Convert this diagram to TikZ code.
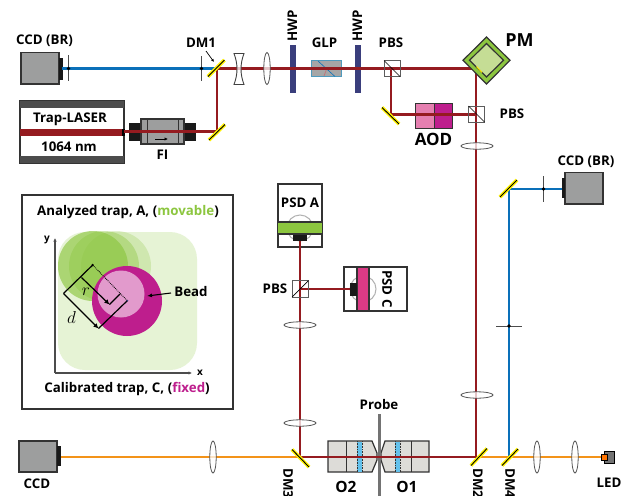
\documentclass[tikz,border=0pt]{standalone}
\usepackage{fontspec}
\setmainfont{Open Sans}
\usetikzlibrary{arrows.meta}
\definecolor{beamred}{HTML}{951B20}
\definecolor{beamblue}{HTML}{0A70B9}
\definecolor{beamorange}{HTML}{F39319}
\definecolor{camgray}{HTML}{9D9E9E}
\definecolor{edgegray}{HTML}{333333}
\definecolor{mirroryellow}{HTML}{FFF200}
\definecolor{hwpblue}{HTML}{3A3E7C}
\definecolor{pmgreen}{HTML}{8CC63F}
\definecolor{pmlight}{HTML}{C5DD95}
\definecolor{magentaA}{HTML}{BE1E8D}
\definecolor{pinkA}{HTML}{E57FB0}
\definecolor{psdpink}{HTML}{DB3A85}
\definecolor{objgray}{HTML}{DDDCD8}
\definecolor{objblue}{HTML}{63C1EC}
\tikzset{
  lbl/.style={font=\bfseries\fontsize{13.3}{15}\selectfont,inner sep=0pt,text=black},
  biglbl/.style={font=\bfseries\fontsize{17}{19}\selectfont,inner sep=0pt,text=black},
  redbeam/.style={draw=beamred,line width=2.7pt},
  bluebeam/.style={draw=beamblue,line width=2.3pt},
  orangebeam/.style={draw=beamorange,line width=2.2pt},
  cam/.style={fill=camgray,draw=edgegray,line width=1.3pt},
  blackpart/.style={fill=black!90,draw=none},
  lensshape/.style={fill=white,fill opacity=.75,draw=black!65,line width=.8pt},
  cube/.style={draw=edgegray!80,line width=.9pt},
  irisline/.style={draw=black!70,line width=.9pt},
  housing/.style={fill=white,draw=edgegray,line width=1.3pt},
  objpart/.style={fill=objgray,draw=edgegray,line width=1.2pt},
}
\newcommand{\mirrorat}[2]{%
  \draw[mirroryellow,line width=3.6pt] #1 -- #2;
  \draw[black,line width=.9pt] #1 -- #2;}
\newcommand{\vlens}[2]{\draw[lensshape] (#1,#2) ellipse [x radius=3.2,y radius=16];}
\newcommand{\hlens}[2]{\draw[lensshape] (#1,#2) ellipse [x radius=16,y radius=3.2];}
\begin{document}
\begin{tikzpicture}[x=1pt,y=-1pt]
\useasboundingbox (0,0) rectangle (625,496);
\clip (0,0) rectangle (625,496);
% beam way-points
\coordinate (dmone) at (217,68.5);
\coordinate (ccdblue) at (62,68.5);
\coordinate (laserout) at (124,131.5);
\coordinate (foldlow) at (217,131.5);
\coordinate (pmcorner) at (476,68.5);
\coordinate (pbsone) at (391,68.5);
\coordinate (foldaod) at (391,114.5);
\coordinate (pbstwo) at (476,114.5);
\coordinate (dmtwo) at (476,457);
\coordinate (dmthree) at (300,457);
\coordinate (psdain) at (300,241);
\coordinate (pbsthree) at (300,289);
\coordinate (psdcin) at (350,289);
\coordinate (dmfour) at (509,457);
\coordinate (foldblue) at (509,189);
\coordinate (ccdbrright) at (562,189);
\coordinate (ccdbottom) at (61,457);
\coordinate (ledin) at (601,457);
% CCD BR left
\draw[cam] (21,52.5) rectangle (59,84);
\fill[blackpart] (59,58) rectangle (63,80);
\node[lbl] (ccdbrA) at (44.5,41) {CCD (BR)};
\node[lbl] (dmonelabel) at (201,43) {DM1};
% trap laser
\draw[fill=white,draw=edgegray,line width=1.2pt] (20,101) rectangle (124,163);
\fill[black!70] (20,101) rectangle (124,108);
\fill[black!70] (20,155.5) rectangle (124,163);
\fill[beamred] (20,129) rectangle (123,136);
\fill[black] (122,129) rectangle (125,135.5);
\node[lbl] (traplabel) at (70,119) {Trap-LASER};
\node[lbl] (nmlabel) at (69,147) {1064 nm};
% FI
\fill[blackpart] (129,123) rectangle (141,141);
\fill[blackpart] (184,123) rectangle (196,141);
\draw[cam] (141,119) rectangle (184,144);
\draw[edgegray,line width=.8pt] (147,119) -- (147,144) (178,119) -- (178,144);
\draw[black,line width=1pt,-{Latex[length=3.5pt,width=3.5pt]}] (155,139) -- (168,139);
\node[lbl] (filabel) at (162.5,154.5) {FI};
% HWP
\fill[hwpblue] (290,44.5) rectangle (295.5,93);
\fill[hwpblue] (355,44.5) rectangle (360.5,93);
\node[lbl,rotate=90] (hwpA) at (292.5,25.5) {HWP};
\node[lbl,rotate=90] (hwpB) at (357.5,25.5) {HWP};
% GLP
\draw[fill=black!35,draw=objblue!80!black,line width=.9pt] (311,60.5) rectangle (341.5,76.5);
\draw[beamblue,line width=.6pt] (318,61) -- (335,76.5);
\draw[beamred!60,line width=.8pt] (324,76) -- (327,68);
\node[lbl] (glplabel) at (324.5,43) {GLP};
\node[lbl] (pbslabelA) at (391,43) {PBS};
% cube backgrounds
\fill[white] (384,60) rectangle (400,77);
\fill[white] (468,106) rectangle (484,122);
\fill[white] (292,280) rectangle (309,297);
% AOD
\draw[fill=pinkA,draw=edgegray,line width=.9pt] (415.5,103) rectangle (434,128);
\draw[fill=magentaA,draw=edgegray,line width=.9pt] (434,103) rectangle (452.5,128);
\node[biglbl] (aodlabel) at (433.5,139.5) {AOD};
\node[lbl] (pbslabelB) at (512,114) {PBS};
% PSD A
\draw[housing] (278,184) rectangle (322,247);
\draw[black!30,line width=1pt] (300,228) circle (13);
\fill[pmgreen] (278,222) rectangle (322,234);
\draw[edgegray,line width=1.2pt] (278,222) -- (322,222) (278,234) -- (322,234);
\fill[blackpart] (293,234.5) rectangle (307,241);
\node[lbl] (psdalabel) at (300,203) {PSD A};
% PSD C
\draw[housing] (344,267) rectangle (407,311);
\draw[black!30,line width=1pt] (363,289) circle (13);
\draw[fill=psdpink,draw=edgegray,line width=1.2pt] (357,267) rectangle (369,311);
\fill[blackpart] (350,283) rectangle (357,296);
\node[lbl,rotate=-90] (psdclabel) at (387,289) {PSD C};
\node[lbl] (pbslabelC) at (275,289) {PBS};
% objectives
\draw[objpart] (328,441) -- (372,441) -- (377,453) -- (377,460) -- (372,472) -- (328,472) -- cycle;
\draw[objpart] (429,441) -- (385,441) -- (381,453) -- (381,460) -- (385,472) -- (429,472) -- cycle;
\draw[edgegray,line width=1pt] (346,441) -- (346,472) (411,441) -- (411,472);
\fill[objblue] (357,441.5) rectangle (362,471.5);
\fill[objblue] (395,441.5) rectangle (400,471.5);
\draw[edgegray,line width=.6pt,densely dotted] (357,441) -- (357,472) (362,441) -- (362,472) (395,441) -- (395,472) (400,441) -- (400,472);
\fill[black!55] (378,414) rectangle (381,496);
\node[lbl] (probelabel) at (379,405) {Probe};
\node[biglbl,font=\bfseries\fontsize{15.5}{17}\selectfont] (otwo) at (346,487) {O2};
\node[biglbl,font=\bfseries\fontsize{15.5}{17}\selectfont] (oone) at (407,487) {O1};
% beams
\draw[orangebeam] (ccdbottom) -- (dmthree);
\draw[orangebeam] (dmtwo) -- (ledin);
\draw[bluebeam] (ccdblue) -- (dmone);
\draw[bluebeam] (dmfour) -- (foldblue) -- (ccdbrright);
\draw[redbeam] (laserout) -- (foldlow) -- (dmone) -- (pmcorner) -- (dmtwo) -- (dmthree);
\draw[redbeam,line width=2.2pt] (pbsone) -- (foldaod) -- (pbstwo);
\draw[redbeam] (psdain) -- (dmthree);
\draw[redbeam,line width=2.2pt] (pbsthree) -- (psdcin);
% cubes
\draw[cube] (384,60.5) rectangle (400,76.5);
\draw[black,line width=.7pt] (384,60.5) -- (400,76.5);
\draw[cube] (468.5,106) rectangle (484.5,122);
\draw[black,line width=.7pt] (468.5,106) -- (484.5,122);
\draw[cube] (292,280.5) rectangle (308.5,297);
\draw[black,line width=.7pt] (292,297) -- (308.5,280.5);
% mirrors
\mirrorat{(208,76.5)}{(224.5,60)}
\mirrorat{(209,140)}{(225,124.5)}
\mirrorat{(382,107.5)}{(399,124)}
\mirrorat{(292,449.5)}{(309,467)}
\mirrorat{(471,465.5)}{(487,448.5)}
\mirrorat{(502,465.5)}{(518,449)}
\mirrorat{(500,197)}{(517,180)}
% PM
\draw[fill=pmgreen,draw=edgegray,line width=1.2pt] (463,60.3) -- (486.5,37) -- (510,60.3) -- (486.5,84) -- cycle;
\draw[fill=pmlight,draw=edgegray,line width=1.2pt] (469.5,60.3) -- (486.5,43.5) -- (503.5,60.3) -- (486.5,77) -- cycle;
\draw[mirroryellow,line width=1pt] (476.5,66.5) -- (482,72.5);
\node[biglbl,font=\bfseries\fontsize{18}{20}\selectfont] (pmlabel) at (519.5,40) {PM};
% lenses
\vlens{267}{68.5}
\vlens{213}{457}
\vlens{537}{457}
\vlens{575}{457}
\hlens{477}{146}
\hlens{477}{395}
\hlens{300}{325}
\hlens{300}{423}
% biconcave lens
\draw[fill=white,fill opacity=.75,draw=black!75,line width=.9pt] (234,53.5) -- (244,53.5) .. controls (240,64) and (240,74) .. (244,84.5) -- (234,84.5) .. controls (238,74) and (238,64) .. (234,53.5) -- cycle;
% irises
\draw[irisline] (68.5,55) -- (68.5,81);
\fill[black] (68.5,68.5) circle (1.8);
\draw[irisline] (201.5,56) -- (201.5,81);
\fill[black] (201.5,68.5) circle (1.8);
\draw[irisline] (543.5,176) -- (543.5,202);
\fill[black] (543.5,189) circle (1.8);
\draw[irisline] (496,326) -- (522,326);
\fill[black] (509,326) circle (1.8);
% DM1 pointer
\coordinate (dmonetail) at (206,51);
\coordinate (dmonehead) at (214,62);
\draw[black,line width=.7pt,-{Latex[length=3pt,width=3pt]}] (dmonetail) -- (dmonehead);
% right CCD BR
\draw[cam] (565,172.5) rectangle (603,204);
\fill[blackpart] (562,178) rectangle (565,198);
\node[lbl] (ccdbrB) at (586,162) {CCD (BR)};
% bottom CCD
\draw[cam] (19,441) rectangle (57,472);
\fill[blackpart] (57,446) rectangle (61,466);
\node[lbl] (ccdlabel) at (37,484) {CCD};
% LED
\draw[fill=black!55,draw=black,line width=.8pt] (604,451) rectangle (614,463);
\draw[fill=orange!90!red,draw=black,line width=.6pt] (601.5,454) rectangle (607,460);
\node[lbl] (ledlabel) at (609,483) {LED};
% DM labels
\node[lbl,rotate=-90,anchor=west] (dmthreelabel) at (288,468) {DM3};
\node[lbl,rotate=-90,anchor=west] (dmtwolabel) at (478,468) {DM2};
\node[lbl,rotate=-90,anchor=west] (dmfourlabel) at (510,468) {DM4};
% inset
\draw[fill=white,draw=edgegray,line width=1.2pt] (22,195) rectangle (233,409);
\fill[pmgreen!22,rounded corners=27pt] (58,232) rectangle (197,370);
\fill[pmgreen,fill opacity=.25] (116,266) circle (35);
\fill[pmgreen,fill opacity=.4] (104,266) circle (35);
\fill[pmgreen,fill opacity=.65] (93,266) circle (35);
\fill[magentaA] (127,301) circle (35);
\fill[magentaA!45!white] (121,294) circle (23.5);
\coordinate (axo) at (55,373);
\coordinate (axy) at (55,238);
\coordinate (axx) at (192,373);
\draw[black!70,line width=1.2pt,-{Latex[length=3.5pt,width=3.5pt]}] (axo) -- (axy);
\draw[black!70,line width=1.2pt,-{Latex[length=3.5pt,width=3.5pt]}] (axo) -- (axx);
\node[font=\bfseries\fontsize{10}{11}\selectfont,inner sep=0pt] (ylabel) at (47,240) {y};
\node[font=\bfseries\fontsize{10}{11}\selectfont,inner sep=0pt] (xlabel) at (200,373) {x};
\coordinate (trapA) at (92.7,265);
\coordinate (trapC) at (127.3,300.7);
\coordinate (dleft) at (63.5,293.5);
\coordinate (dtip) at (98.5,328.5);
\coordinate (rstart) at (81.5,277.5);
\coordinate (rtip) at (109.5,304.5);
\coordinate (rend) at (120,294);
\draw[black,line width=.8pt,densely dotted] (trapA) -- (trapC);
\draw[black,line width=1.2pt] (trapA) -- (dleft);
\draw[black,line width=1.2pt,-{Latex[length=5pt,width=5pt]}] (dleft) -- (dtip);
\draw[black,line width=1.2pt] (dtip) -- (trapC);
\draw[black,line width=1.2pt,-{Latex[length=5pt,width=5pt]}] (rstart) -- (rtip);
\draw[black,line width=1.2pt] (rtip) -- (rend);
\fill[black] (trapA) circle (1.3);
\fill[hwpblue] (trapC) circle (1);
\node[inner sep=0pt,font=\fontsize{17}{19}\selectfont] (rlabel) at (86,292) {$r$};
\node[inner sep=0pt,font=\fontsize{17}{19}\selectfont] (dlabel) at (71.5,317) {$d$};
\node[lbl] (beadlabel) at (191,292) {Bead};
\coordinate (beadtail) at (171,293);
\coordinate (beadhead) at (147,296);
\draw[black,line width=1.1pt,-{Latex[length=5pt,width=4pt]}] (beadtail) -- (beadhead);
\node[lbl] (titleA) at (128,212) {Analyzed trap, A, ({\color{pmgreen}movable})};
\node[lbl] (titleC) at (127,389) {Calibrated trap, C, ({\color{magentaA}fixed})};
\end{tikzpicture}
\end{document}
